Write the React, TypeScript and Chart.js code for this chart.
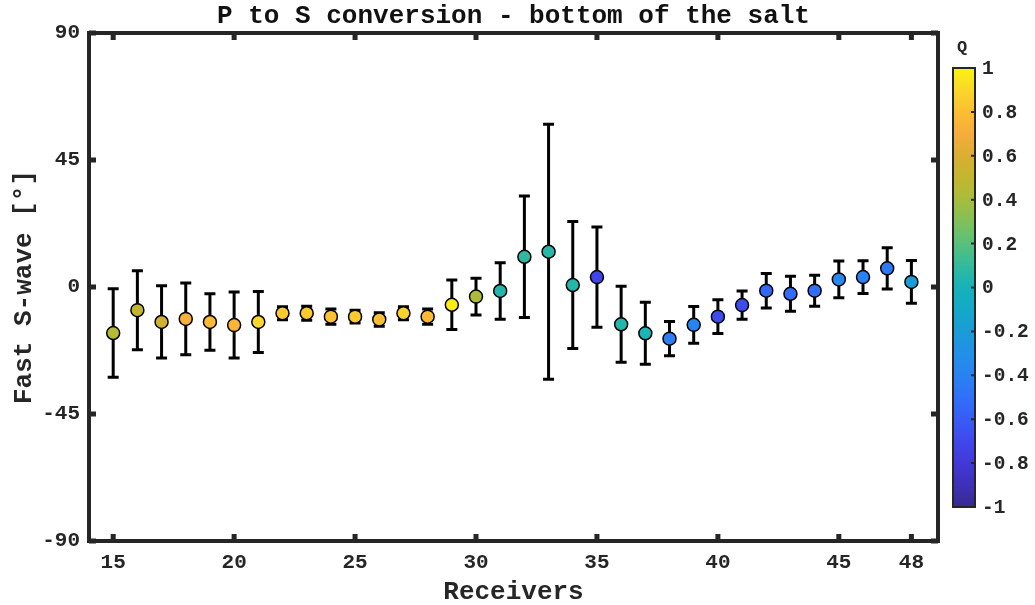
import React, { useEffect, useRef } from "react";
import { Chart, registerables } from "chart.js";

Chart.register(...registerables);

// ---- Data ----
const receivers = [15, 16, 17, 18, 19, 20, 21, 22, 23, 24, 25, 26, 27, 28, 29, 30, 31, 32, 33, 34, 35, 36, 37, 38, 39, 40, 41, 42, 43, 44, 45, 46, 47, 48];
const fastAngle = [-16.3, -8.2, -12.4, -11.3, -12.4, -13.5, -12.4, -9.3, -9.3, -10.5, -10.5, -11.5, -9.3, -10.5, -6.3, -3.4, -1.4, 10.7, 12.5, 0.7, 3.5, -13.2, -16.4, -18.3, -13.4, -10.5, -6.4, -1.3, -2.4, -1.3, 2.7, 3.5, 6.6, 1.8];
const angleErr = [15.7, 14, 12.8, 12.7, 10, 11.7, 10.8, 2.3, 2.5, 2.7, 2.3, 2.4, 2.3, 2.7, 8.8, 6.5, 10, 21.5, 45.2, 22.5, 17.8, 13.5, 11, 6.1, 6.5, 6, 5, 6.1, 6.2, 5.5, 6.5, 5.8, 7.3, 7.6];
const qValues = [0.45, 0.5, 0.55, 0.72, 0.78, 0.75, 0.9, 0.85, 0.85, 0.82, 0.85, 0.8, 0.88, 0.78, 0.97, 0.42, 0.05, 0.08, 0.06, 0.05, -0.72, 0.05, 0.02, -0.42, -0.38, -0.68, -0.68, -0.55, -0.52, -0.5, -0.35, -0.4, -0.45, -0.2];

const xTickValues = [15, 20, 25, 30, 35, 40, 45, 48];
const yTickValues = [-90, -45, 0, 45, 90];
const cbTickValues = [-1, -0.8, -0.6, -0.4, -0.2, 0, 0.2, 0.4, 0.6, 0.8, 1];

const cmapQ = [-1, -0.9, -0.8, -0.7, -0.6, -0.5, -0.4, -0.3, -0.2, -0.1, 0, 0.1, 0.2, 0.3, 0.4, 0.5, 0.6, 0.7, 0.8, 0.9, 1];
const cmapColors = ["#382a90", "#3e30b8", "#4238d8", "#4048ec", "#385cf6", "#3070f8", "#2a82f2", "#2290e8", "#1a9cd6", "#14a8c8", "#16b2ba", "#34ba9c", "#58c07c", "#80c05a", "#a8bc3c", "#c2b630", "#dbae33", "#f5ac3e", "#fcbe32", "#fad72a", "#f8f412"];

const FONT = "'Liberation Mono', 'Courier New', monospace";
const INK = "#262626";

function hexToRgb(h: string) {
  const n = parseInt(h.slice(1), 16);
  return [(n >> 16) & 255, (n >> 8) & 255, n & 255];
}

function qColor(q: number) {
  if (q <= cmapQ[0]) return cmapColors[0];
  for (let i = 0; i < cmapQ.length - 1; i++) {
    if (q <= cmapQ[i + 1]) {
      const t = (q - cmapQ[i]) / (cmapQ[i + 1] - cmapQ[i]);
      const a = hexToRgb(cmapColors[i]);
      const b = hexToRgb(cmapColors[i + 1]);
      const c = a.map((v, k) => Math.round(v + (b[k] - v) * t));
      return `rgb(${c[0]},${c[1]},${c[2]})`;
    }
  }
  return cmapColors[cmapColors.length - 1];
}

const errorBarPlugin = {
  id: "errorBars",
  beforeDatasetsDraw(chart: any) {
    const { ctx, scales } = chart;
    const xs = scales.x;
    const ys = scales.y;
    ctx.save();
    ctx.strokeStyle = "#000";
    ctx.lineWidth = 3;
    ctx.lineCap = "butt";
    receivers.forEach((r, i) => {
      const x = xs.getPixelForValue(r);
      const yTop = ys.getPixelForValue(fastAngle[i] + angleErr[i]);
      const yBot = ys.getPixelForValue(fastAngle[i] - angleErr[i]);
      ctx.beginPath();
      ctx.moveTo(x, yTop);
      ctx.lineTo(x, yBot);
      ctx.moveTo(x - 5.5, yTop);
      ctx.lineTo(x + 5.5, yTop);
      ctx.moveTo(x - 5.5, yBot);
      ctx.lineTo(x + 5.5, yBot);
      ctx.stroke();
    });
    ctx.restore();
  },
};

const framePlugin = {
  id: "frame",
  afterDatasetsDraw(chart: any) {
    const { ctx, chartArea, scales } = chart;
    const { left, right, top, bottom } = chartArea;
    ctx.save();
    ctx.strokeStyle = INK;
    ctx.lineWidth = 4;
    ctx.strokeRect(left, top, right - left, bottom - top);
    ctx.lineWidth = 5;
    ctx.beginPath();
    xTickValues.forEach((v) => {
      const x = scales.x.getPixelForValue(v);
      ctx.moveTo(x, bottom);
      ctx.lineTo(x, bottom - 7);
      ctx.moveTo(x, top);
      ctx.lineTo(x, top + 7);
    });
    yTickValues.forEach((v) => {
      const y = scales.y.getPixelForValue(v);
      ctx.moveTo(left, y);
      ctx.lineTo(left + 7, y);
      ctx.moveTo(right, y);
      ctx.lineTo(right - 7, y);
    });
    ctx.stroke();
    ctx.restore();
  },
};

const colorbarPlugin = {
  id: "colorbar",
  afterDraw(chart: any) {
    const { ctx } = chart;
    const x0 = 953;
    const x1 = 975;
    const yTop = 68;
    const yBot = 507;
    const yFor = (q: number) => yBot - ((q + 1) / 2) * (yBot - yTop);
    ctx.save();
    const g = ctx.createLinearGradient(0, yBot, 0, yTop);
    cmapQ.forEach((q, i) => g.addColorStop((q + 1) / 2, cmapColors[i]));
    ctx.fillStyle = g;
    ctx.fillRect(x0, yTop, x1 - x0, yBot - yTop);
    ctx.strokeStyle = INK;
    ctx.lineWidth = 2;
    ctx.strokeRect(x0, yTop, x1 - x0, yBot - yTop);
    ctx.lineWidth = 2;
    ctx.beginPath();
    cbTickValues.forEach((q) => {
      const y = yFor(q);
      ctx.moveTo(x1, y);
      ctx.lineTo(x1 - 4, y);
    });
    ctx.stroke();
    ctx.fillStyle = INK;
    ctx.font = `bold 19.5px ${FONT}`;
    ctx.textAlign = "left";
    ctx.textBaseline = "middle";
    cbTickValues.forEach((q) => {
      ctx.fillText(String(q), 982, yFor(q) + 1);
    });
    ctx.font = `bold 17px ${FONT}`;
    ctx.textAlign = "center";
    ctx.fillText("Q", 962, 48);
    ctx.restore();
  },
};

export default function App() {
  const canvasRef = useRef<HTMLCanvasElement | null>(null);

  useEffect(() => {
    const canvas = canvasRef.current;
    if (!canvas) return;
    const tickFont = { family: FONT, size: 21, weight: "bold" as const };
    const titleFont = { family: FONT, size: 26, weight: "bold" as const, lineHeight: 1 };
    const chart = new Chart(canvas, {
      type: "scatter",
      data: {
        datasets: [
          {
            data: receivers.map((r, i) => ({ x: r, y: fastAngle[i] })),
            pointRadius: 6.5,
            pointHoverRadius: 6.5,
            pointBackgroundColor: qValues.map(qColor),
            pointBorderColor: "#000",
            pointBorderWidth: 1.5,
            pointHoverBorderWidth: 1.5,
          },
        ],
      },
      options: {
        animation: false,
        responsive: false,
        events: [],
        layout: { padding: { left: 0, right: 97, top: 0, bottom: 0 } },
        plugins: {
          legend: { display: false },
          tooltip: { enabled: false },
          title: {
            display: true,
            fullSize: false,
            text: "P to S conversion - bottom of the salt",
            color: "#111",
            font: titleFont,
            padding: { top: 3, bottom: 4 },
          },
        },
        scales: {
          x: {
            type: "linear",
            min: 14,
            max: 49.1,
            afterBuildTicks: (s: any) => {
              s.ticks = xTickValues.map((v) => ({ value: v }));
            },
            afterFit: (s: any) => {
              s.height = 64;
            },
            ticks: {
              font: tickFont,
              color: INK,
              padding: 9,
              autoSkip: false,
              maxRotation: 0,
              callback: (v: any) => String(v),
            },
            grid: { display: false, drawTicks: false },
            border: { display: false },
            title: {
              display: true,
              text: "Receivers",
              color: INK,
              font: titleFont,
              padding: { top: 0, bottom: 0 },
            },
          },
          y: {
            type: "linear",
            min: -90,
            max: 90,
            afterBuildTicks: (s: any) => {
              s.ticks = yTickValues.map((v) => ({ value: v }));
            },
            afterFit: (s: any) => {
              s.width = 89;
            },
            ticks: {
              font: tickFont,
              color: INK,
              padding: 9,
              callback: (v: any) => String(v),
            },
            grid: { display: false, drawTicks: false },
            border: { display: false },
            title: {
              display: true,
              text: "Fast S-wave [°]",
              color: INK,
              font: titleFont,
              padding: { top: 11, bottom: 0 },
            },
          },
        },
      },
      plugins: [errorBarPlugin, framePlugin, colorbarPlugin],
    });
    return () => chart.destroy();
  }, []);

  return (
    <div style={{ position: "absolute", left: 0, top: 0, width: 1035, height: 605, background: "#fff" }}>
      <canvas ref={canvasRef} width={1035} height={605} style={{ display: "block" }} />
    </div>
  );
}
